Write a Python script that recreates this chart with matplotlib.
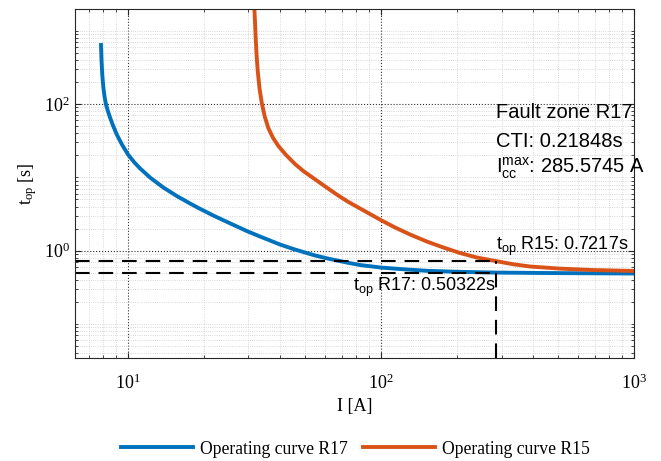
import numpy as np
import matplotlib
matplotlib.use("Agg")
import matplotlib.pyplot as plt
from matplotlib.ticker import FixedLocator, LogLocator, FuncFormatter, NullFormatter

plt.rcParams['font.family'] = 'Liberation Serif'
plt.rcParams['mathtext.fontset'] = 'custom'
plt.rcParams['mathtext.rm'] = 'Liberation Serif'

# operating curve of relay R17 (current [A], time [s])
I_r17 = [7.84, 7.876, 7.934, 8.007, 8.095, 8.206, 8.357, 8.512, 8.745, 9.07,
         9.49, 10.03, 10.59, 11.18, 12.25, 13.83, 15.62, 17.63, 19.31, 21.79,
         25.37, 29.54, 33.34, 39.99, 45.13, 54.15, 61.17, 73.39, 82.81, 100,
         119.2, 152.0, 205.8, 285.5745, 511, 1000]
t_r17 = [640, 400, 249.5, 171.2, 127.0, 98.7, 79.3, 65.6, 51.1, 37.9,
         28.1, 20.5, 16.2, 13.3, 9.97, 7.28, 5.58, 4.41, 3.73, 3.02,
         2.365, 1.857, 1.562, 1.215, 1.055, 0.874, 0.788, 0.690, 0.638, 0.590,
         0.563, 0.532, 0.515, 0.50322, 0.495, 0.489]

# operating curve of relay R15
I_r15 = [31.65, 31.80, 32.03, 32.29, 32.65, 33.19, 33.86, 34.74, 35.96, 37.53,
         39.38, 42.24, 45.84, 49.30, 53.36, 59.14, 66.99, 74.25, 82.81, 100,
         113.9, 130.6, 152.0, 176.8, 205.8, 239.6, 285.5745, 333.4, 389.1, 511,
         692.2, 1000]
t_r15 = [2028, 1404, 797.7, 467.7, 276.7, 160.7, 103.5, 68.8, 46.8, 34.5,
         26.8, 20.2, 15.2, 12.3, 10.13, 7.88, 5.84, 4.65, 3.77, 2.62,
         2.073, 1.663, 1.335, 1.106, 0.930, 0.808, 0.7217, 0.654, 0.609, 0.570,
         0.545, 0.530]

I_cc_max = 285.5745
t_op_r17 = 0.50322
t_op_r15 = 0.7217
cti = 0.21848

x_lim = (6.19, 1000)
y_lim = (0.0344, 1985)

blue = '#0072BD'
red = '#D95319'
sans = 'Liberation Sans'

fig = plt.figure(figsize=(6.61, 4.61), dpi=100)
ax = fig.add_axes([0.1135, 0.2234, 0.8455, 0.7571])

ax.plot(I_r17, t_r17, color=blue, lw=2.8, solid_joinstyle='round',
        label='Operating curve R17')
ax.plot(I_r15, t_r15, color=red, lw=2.8, solid_joinstyle='round',
        label='Operating curve R15')

# guide lines at the maximum fault current
dash = (0, (7, 4.3))
ax.plot([x_lim[0], I_cc_max], [t_op_r15, t_op_r15], color='k', ls=dash, lw=1.5)
ax.plot([x_lim[0], I_cc_max], [t_op_r17, t_op_r17], color='k', ls=dash, lw=1.5)
ax.plot([I_cc_max, I_cc_max], [y_lim[0], t_op_r15], color='k', ls=dash, lw=1.5)

ax.set_xscale('log')
ax.set_yscale('log')
ax.set_xlim(x_lim)
ax.set_ylim(y_lim)

fmt = FuncFormatter(lambda v, p: r'$\mathregular{10^{%d}}$' % round(np.log10(v)))
ax.xaxis.set_major_locator(FixedLocator([10, 100, 1000]))
ax.yaxis.set_major_locator(FixedLocator([1, 100]))
ax.xaxis.set_major_formatter(fmt)
ax.yaxis.set_major_formatter(fmt)
for axis in (ax.xaxis, ax.yaxis):
    axis.set_minor_locator(LogLocator(base=10, subs=np.arange(1, 10), numticks=60))
    axis.set_minor_formatter(NullFormatter())

ax.grid(True, which='major', ls=':', color='#1a1a1a', lw=0.8, alpha=0.9)
ax.grid(True, which='minor', ls=':', color='#cccccc', lw=0.6)
ax.set_axisbelow(True)

ax.tick_params(which='both', direction='in', top=True, right=True,
               color='#262626', labelcolor='black')
ax.tick_params(which='major', length=4.5, labelsize=13)
ax.tick_params(axis='x', which='major', pad=11)
ax.tick_params(which='minor', length=2.5)
for s in ax.spines.values():
    s.set_color('#262626')
    s.set_linewidth(0.8)

ax.set_xlabel('I [A]', fontsize=13, labelpad=4)
ax.set_ylabel(r'$\mathregular{t_{op}}$ [s]', fontsize=13)

# annotations
ax.text(I_cc_max, 64.6, 'Fault zone R17', family=sans, fontsize=14.5, va='baseline')
ax.text(I_cc_max, 26.0, f'CTI: {cti}s', family=sans, fontsize=14.5, va='baseline')
ax.text(I_cc_max, 11.5, r'$\mathregular{I_{cc}^{max}}$: ' + f'{I_cc_max} A',
        family=sans, fontsize=14.5, va='baseline')
ax.text(I_cc_max, 1.02, r'$\mathregular{t_{op}}$ R15: ' + f'{t_op_r15}s',
        family=sans, fontsize=13, va='baseline')
ax.text(I_cc_max, 0.282, r'$\mathregular{t_{op}}$ R17: ' + f'{t_op_r17}s',
        family=sans, fontsize=13, va='baseline', ha='right')

fig.legend(loc='center', bbox_to_anchor=(0.5375, 0.026), ncol=2, frameon=False,
           fontsize=12.7, handlelength=4.1, handletextpad=0.35, columnspacing=0.9)

fig.savefig('out.png', dpi=100)
